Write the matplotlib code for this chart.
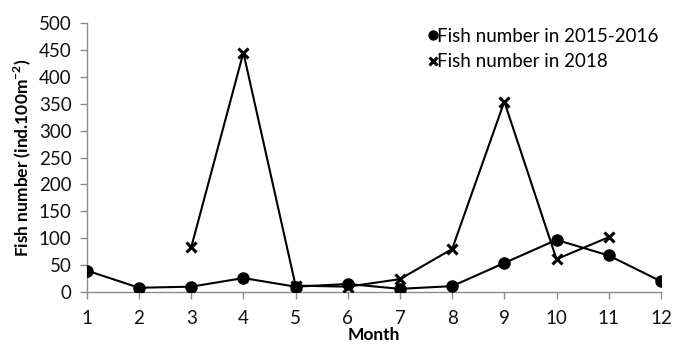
import matplotlib.pyplot as plt
import numpy as np

plt.rcParams['font.family'] = ['Lato', 'DejaVu Sans']

# Monthly fish density
months = [1, 2, 3, 4, 5, 6, 7, 8, 9, 10, 11, 12]
fish_2015_2016 = [40, 8, 10, 26, 10, 15, 6, 11, 54, 97, 68, 20]
months_2018 = [3, 4, 5, 6, 7, 8, 9, 10, 11]
fish_2018 = [83, 445, 12, 10, 24, 80, 354, 61, 102]

fig = plt.figure(figsize=(6.73, 3.44), dpi=100)
ax = fig.add_axes([0.129, 0.151, 0.853, 0.782])

ax.plot(months, fish_2015_2016, color='black', lw=1.5, marker='o', ms=8,
        label='Fish number in 2015-2016', zorder=3)
ax.plot(months_2018, fish_2018, color='black', lw=1.5, marker='x', ms=7,
        mew=2.2, label='Fish number in 2018', zorder=3)

ax.set_xlim(1, 12)
ax.set_ylim(0, 500)
ax.set_xticks(months)
ax.set_yticks(np.arange(0, 501, 50))

for s in ['top', 'right']:
    ax.spines[s].set_visible(False)
for s in ['left', 'bottom']:
    ax.spines[s].set_color('#8c8c8c')
    ax.spines[s].set_linewidth(1.0)
ax.tick_params(axis='both', colors='#8c8c8c', labelcolor='#111111', labelsize=13.5,
               length=5, width=1.0)
ax.tick_params(axis='x', pad=8)
ax.tick_params(axis='y', pad=6)

ax.set_xlabel('Month', fontsize=12.5, fontweight='bold', labelpad=0)
ax.set_ylabel('Fish number (ind.100m$^{\\mathregular{-2}}$)', fontsize=12.5,
              fontweight='bold', labelpad=4)

ax.legend(loc='upper right', bbox_to_anchor=(1.025, 1.045), frameon=False,
          fontsize=13.5, handlelength=0, handletextpad=0.2, labelspacing=0.45,
          markerscale=0.8)
for line in ax.get_legend().get_lines():
    line.set_linestyle('None')

fig.savefig('out.png', dpi=100)
